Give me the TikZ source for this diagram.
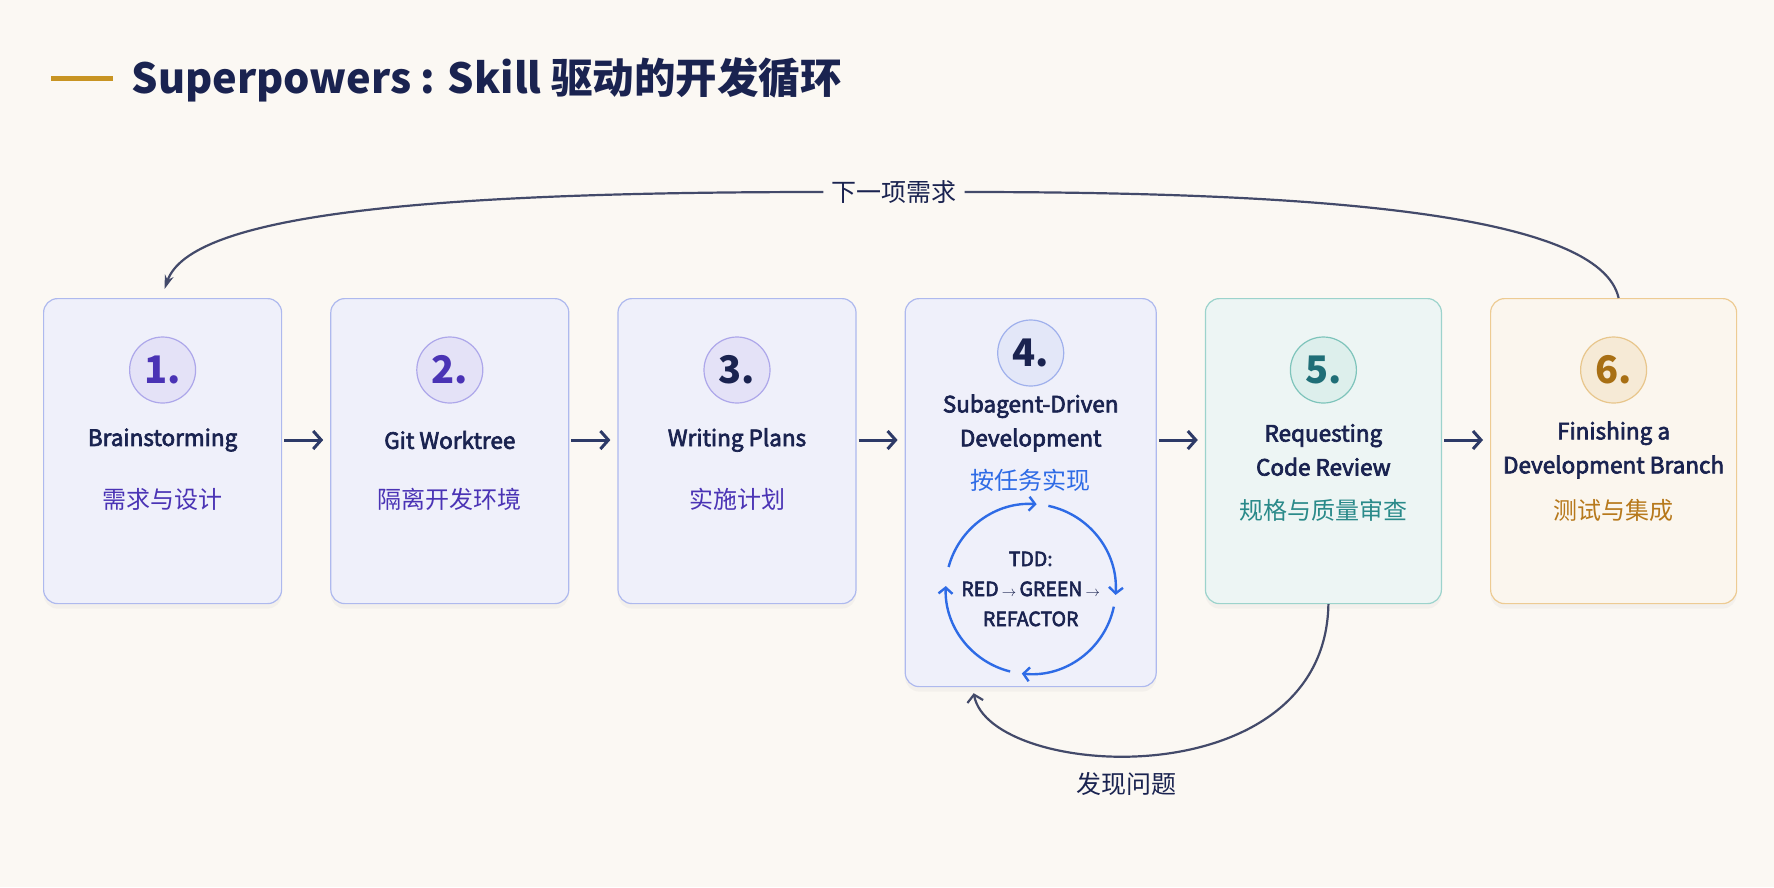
\documentclass[tikz,border=0pt]{standalone}
\usepackage{fontspec}
\usepackage{xcolor}
\usepackage{tikz}
\usetikzlibrary{arrows.meta,positioning,shadows}
\setmainfont{Noto Sans CJK SC}
\newfontfamily\cjk{Noto Sans CJK SC}
\newfontfamily\semib[FakeBold=3]{Noto Sans CJK SC}

\definecolor{bgcol}{HTML}{FBF8F3}
\definecolor{navy}{HTML}{1A2350}
\definecolor{arrowc}{HTML}{2D3A67}
\definecolor{loopc}{HTML}{434A6A}
\definecolor{barcol}{HTML}{C89422}
\definecolor{lavfill}{HTML}{EFF0FA}
\definecolor{lavline}{HTML}{AEB9EE}
\definecolor{purp}{HTML}{4A33B5}
\definecolor{purpfill}{HTML}{E4E2F7}
\definecolor{purpline}{HTML}{ADA7EA}
\definecolor{bluetext}{HTML}{2E6BE6}
\definecolor{bluefill}{HTML}{E3E7F8}
\definecolor{blueline}{HTML}{9FB0EC}
\definecolor{tealfill}{HTML}{EDF5F4}
\definecolor{tealline}{HTML}{9CD3CC}
\definecolor{tealtext}{HTML}{2A8A8A}
\definecolor{tealnum}{HTML}{1F6E77}
\definecolor{tealcirc}{HTML}{DDEFEC}
\definecolor{tealcline}{HTML}{7EC4BB}
\definecolor{ambfill}{HTML}{FBF6EE}
\definecolor{ambline}{HTML}{EDCB93}
\definecolor{ambtext}{HTML}{B7791C}
\definecolor{ambnum}{HTML}{A86F14}
\definecolor{ambcirc}{HTML}{F6EAD6}
\definecolor{ambcline}{HTML}{E8C68C}

\begin{document}
\begin{tikzpicture}[
  x=1pt, y=1pt,
  node distance=48pt,
  card/.style={draw, rounded corners=14pt, line width=1.2pt, minimum width=238pt,
    minimum height=305pt, drop shadow={shadow xshift=0pt, shadow yshift=-5pt, opacity=0.06}},
  lav/.style={card, draw=lavline, fill=lavfill},
  teal/.style={card, draw=tealline, fill=tealfill},
  amber/.style={card, draw=ambline, fill=ambfill},
  num/.style={circle, minimum size=66pt, inner sep=0pt, line width=1.2pt,
    font=\fontsize{38}{38}\selectfont\bfseries},
  ttl/.style={align=center, text=navy, font=\semib\fontsize{22.5}{34}\selectfont},
  sub/.style={font=\cjk\fontsize{24}{26}\selectfont},
  flow/.style={-{Straight Barb[length=8pt,width=18pt]}, line width=3pt, draw=arrowc,
    shorten <=2pt, shorten >=7pt},
  loopline/.style={line width=2.2pt, draw=loopc},
  looplab/.style={text=navy, font=\cjk\fontsize{25}{26}\selectfont, inner sep=8pt},
  cycarr/.style={draw=bluetext, line width=2.4pt, -{Straight Barb[length=6pt,width=14pt]}}
]
\useasboundingbox (0,0) rectangle (1774,-887);
\fill[bgcol] (0,0) rectangle (1774,-887);

% title
\draw[line width=5pt, draw=barcol] (51,-78) -- (113,-78);
\node[anchor=west, text=navy, font=\fontsize{41.5}{44}\selectfont\bfseries] (title) at (128,-80)
  {Superpowers : Skill 驱动的开发循环};

% cards
\node[lav, anchor=north west] (b1) at (43,-298) {};
\node[lav, right=of b1.north east, anchor=north west] (b2) {};
\node[lav, right=of b2.north east, anchor=north west] (b3) {};
\node[lav, right=of b3.north east, anchor=north west, minimum width=251pt, minimum height=388pt] (b4) {};
\node[teal, right=of b4.north east, anchor=north west, minimum width=236pt] (b5) {};
\node[amber, right=of b5.north east, anchor=north west, minimum width=246pt] (b6) {};

% card contents
\node[num, draw=purpline, fill=purpfill, text=purp] (n1) at ([yshift=-72pt]b1.north) {1.};
\node[ttl] (t1) at ([yshift=-142pt]b1.north) {Brainstorming};
\node[sub, text=purp] (s1) at ([yshift=-201pt]b1.north) {需求与设计};

\node[num, draw=purpline, fill=purpfill, text=purp] (n2) at ([yshift=-72pt]b2.north) {2.};
\node[ttl] (t2) at ([yshift=-142pt]b2.north) {Git Worktree};
\node[sub, text=purp] (s2) at ([yshift=-201pt]b2.north) {隔离开发环境};

\node[num, draw=purpline, fill=purpfill, text=navy] (n3) at ([yshift=-72pt]b3.north) {3.};
\node[ttl] (t3) at ([yshift=-142pt]b3.north) {Writing Plans};
\node[sub, text=purp] (s3) at ([yshift=-201pt]b3.north) {实施计划};

\node[num, draw=blueline, fill=bluefill, text=navy] (n4) at ([yshift=-55pt]b4.north) {4.};
\node[ttl] (t4) at ([yshift=-125pt]b4.north) {Subagent-Driven\\Development};
\node[sub, text=bluetext] (s4) at ([yshift=-182pt]b4.north) {按任务实现};
\coordinate (cyc) at ([yshift=-291pt]b4.north);
\node[align=center, text=navy, font=\semib\fontsize{19.5}{30}\selectfont] (tdd) at (cyc)
  {TDD:\\RED\,{\fontsize{14}{14}\selectfont$\rightarrow$}\,GREEN\,{\fontsize{14}{14}\selectfont$\rightarrow$}\\REFACTOR};
\draw[cycarr] ([shift={(165:85pt)}]cyc) arc[start angle=165, end angle=86, radius=85pt];
\draw[cycarr] ([shift={(78:85pt)}]cyc) arc[start angle=78, end angle=-4, radius=85pt];
\draw[cycarr] ([shift={(-12:85pt)}]cyc) arc[start angle=-12, end angle=-96, radius=85pt];
\draw[cycarr] ([shift={(-104:85pt)}]cyc) arc[start angle=-104, end angle=-182, radius=85pt];

\node[num, draw=tealcline, fill=tealcirc, text=tealnum] (n5) at ([yshift=-72pt]b5.north) {5.};
\node[ttl] (t5) at ([yshift=-152pt]b5.north) {Requesting\\Code Review};
\node[sub, text=tealtext] (s5) at ([yshift=-212pt]b5.north) {规格与质量审查};

\node[num, draw=ambcline, fill=ambcirc, text=ambnum] (n6) at ([yshift=-72pt]b6.north) {6.};
\node[ttl] (t6) at ([yshift=-152pt]b6.north) {Finishing a\\Development Branch};
\node[sub, text=ambtext] (s6) at ([yshift=-212pt]b6.north) {测试与集成};

% flow arrows
\draw[flow] (b1.east |- t1) -- (b2.west |- t1);
\draw[flow] (b2.east |- t1) -- (b3.west |- t1);
\draw[flow] (b3.east |- t1) -- (b4.west |- t1);
\draw[flow] (b4.east |- t1) -- (b5.west |- t1);
\draw[flow] (b5.east |- t1) -- (b6.west |- t1);

% next requirement loop
\node[looplab] (next) at (894,-192) {下一项需求};
\draw[loopline] ([xshift=5pt]b6.north) .. controls (1600,-215) and (1330,-192) .. (next.east);
\draw[loopline, -{Stealth[length=14pt,width=9pt]}] (next.west)
  .. controls (420,-192) and (190,-215) .. ([shift={(2pt,9pt)}]b1.north);

% review loop
\draw[loopline, -{Straight Barb[length=7pt,width=16pt]}] ([xshift=5pt]b5.south)
  .. controls (1325,-800) and (990,-780) .. ([shift={(-57pt,-6pt)}]b4.south);
\node[looplab] (issue) at (1126,-784) {发现问题};
\end{tikzpicture}
\end{document}
